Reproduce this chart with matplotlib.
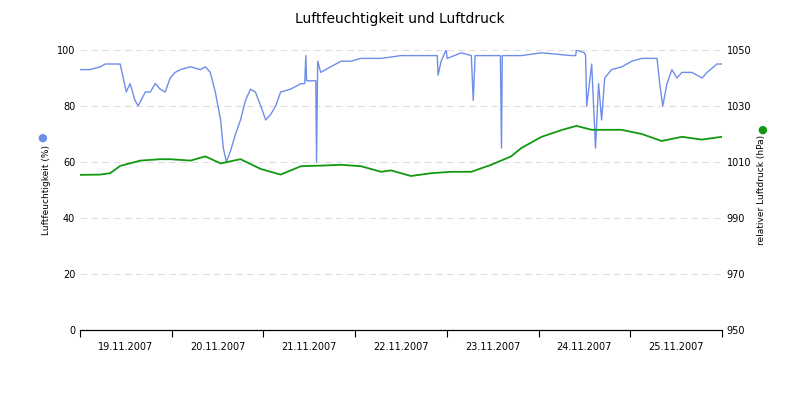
import matplotlib
matplotlib.use("Agg")
import matplotlib.pyplot as plt
import pandas as pd

start = pd.Timestamp("2007-11-19")

# humidity (%) at hours since 19.11.2007 00:00
hum_hours = [0, 2.6, 5.3, 6.6, 10.5, 11, 12.1, 13.1, 14.4, 15.2, 17.1, 18.4, 19.7, 21, 22.3,
             23.6, 24.9, 26.3, 28.9, 31.5, 32.8, 34.1, 35.4, 36.8, 37.5, 38.3, 39.4, 40.7, 42,
             43.3, 44.6, 45.9, 47.3, 48.6, 49.9, 51.2, 52.5, 55.1, 57.8, 58.8, 59.1, 59.3, 60.4,
             61.7, 61.9, 62.2, 63, 65.6, 68.3, 70.9, 73.5, 78.8, 84, 91.9, 93.5, 93.7, 94.5,
             95.8, 96.1, 99.8, 102.4, 102.9, 103.4, 105, 107.6, 110, 110.3, 110.5, 115.5, 120.8,
             128.6, 129.7, 129.9, 132, 132.3, 132.6, 133.9, 134.9, 135.7, 136.5, 137.3, 139.1,
             141.8, 144.4, 147, 151, 151.7, 152.5, 153.6, 154.9, 156.2, 157.5, 160.1, 162.8,
             164.1, 166.7, 168]
hum_vals = [93, 93, 94, 95, 95, 92, 85, 88, 82, 80, 85, 85, 88, 86, 85,
            90, 92, 93, 94, 93, 94, 92, 85, 75, 65, 60, 64, 70, 75,
            82, 86, 85, 80, 75, 77, 80, 85, 86, 88, 88, 98, 89, 89,
            89, 60, 96, 92, 94, 96, 96, 97, 97, 98, 98, 98, 91, 96,
            100, 97, 99, 98, 82, 98, 98, 98, 98, 65, 98, 98, 99,
            98, 98, 100, 99, 98, 80, 95, 65, 88, 75, 90, 93,
            94, 96, 97, 97, 88, 80, 88, 93, 90, 92, 92, 90,
            92, 95, 95]

# pressure (hPa)
pres_hours = [0, 5.2, 7.9, 10.5, 15.8, 21, 23.6, 28.9, 32.8, 36.8, 42, 47.3, 52.5, 57.8,
              63, 68.3, 73.5, 78.8, 81.4, 86.6, 91.9, 97.1, 102.4, 107.6, 112.8, 115.5,
              120.8, 126, 129.9, 133.9, 141.7, 147, 152.2, 157.5, 162.7, 168]
pres_vals = [1005.4, 1005.5, 1006, 1008.6, 1010.5, 1011, 1011, 1010.5, 1012, 1009.5, 1011,
             1007.5, 1005.5, 1008.5, 1008.7, 1009, 1008.5, 1006.5, 1007, 1005, 1006, 1006.5,
             1006.5, 1009, 1012, 1015, 1019, 1021.4, 1022.9, 1021.5, 1021.5, 1020, 1017.5,
             1019, 1018, 1019]

t_hum = start + pd.to_timedelta(hum_hours, unit="h")
t_pres = start + pd.to_timedelta(pres_hours, unit="h")

fig = plt.figure(figsize=(8, 4), dpi=100)
ax = fig.add_axes([0.1, 0.175, 0.8025, 0.7])
ax2 = ax.twinx()

ax.plot(t_hum, hum_vals, color="#6f8ee8", linewidth=1)
ax2.plot(t_pres, pres_vals, color="#119911", linewidth=1.3)

ax.set_ylim(0, 100)
ax.set_yticks(range(0, 101, 20))
ax2.set_ylim(950, 1050)
ax2.set_yticks(range(950, 1051, 20))
ax.set_xlim(start, start + pd.Timedelta(days=7))
ax.yaxis.grid(True, linestyle=(0, (6, 4)), color="#dddddd", linewidth=0.8)
ax.set_axisbelow(True)

days = [start + pd.Timedelta(days=i) for i in range(8)]
ax.set_xticks(days)
ax.set_xticklabels([])
mids = [start + pd.Timedelta(hours=12 + 24 * i) for i in range(7)]
ax.set_xticks(mids, minor=True)
ax.set_xticklabels([d.strftime("%d.%m.%Y") for d in mids], minor=True)
ax.tick_params(axis="x", which="minor", length=0, labelsize=7, pad=9)
ax.tick_params(axis="x", which="major", length=5)
ax.tick_params(axis="y", labelsize=7, length=0)
ax2.tick_params(axis="y", labelsize=7, length=0)

for a in (ax, ax2):
    for side in ("top", "right", "left"):
        a.spines[side].set_visible(False)

ax.set_ylabel("Luftfeuchtigkeit (%)", fontsize=6.5)
ax2.set_ylabel("relativer Luftdruck (hPa)", fontsize=6.5)
fig.text(0.053, 0.655, "●", color="#6f8ee8", fontsize=8, ha="center", va="center")
fig.text(0.953, 0.675, "●", color="#119911", fontsize=8, ha="center", va="center")

fig.suptitle("Luftfeuchtigkeit und Luftdruck", y=0.97, fontsize=10)
fig.savefig("out.png", dpi=100)
